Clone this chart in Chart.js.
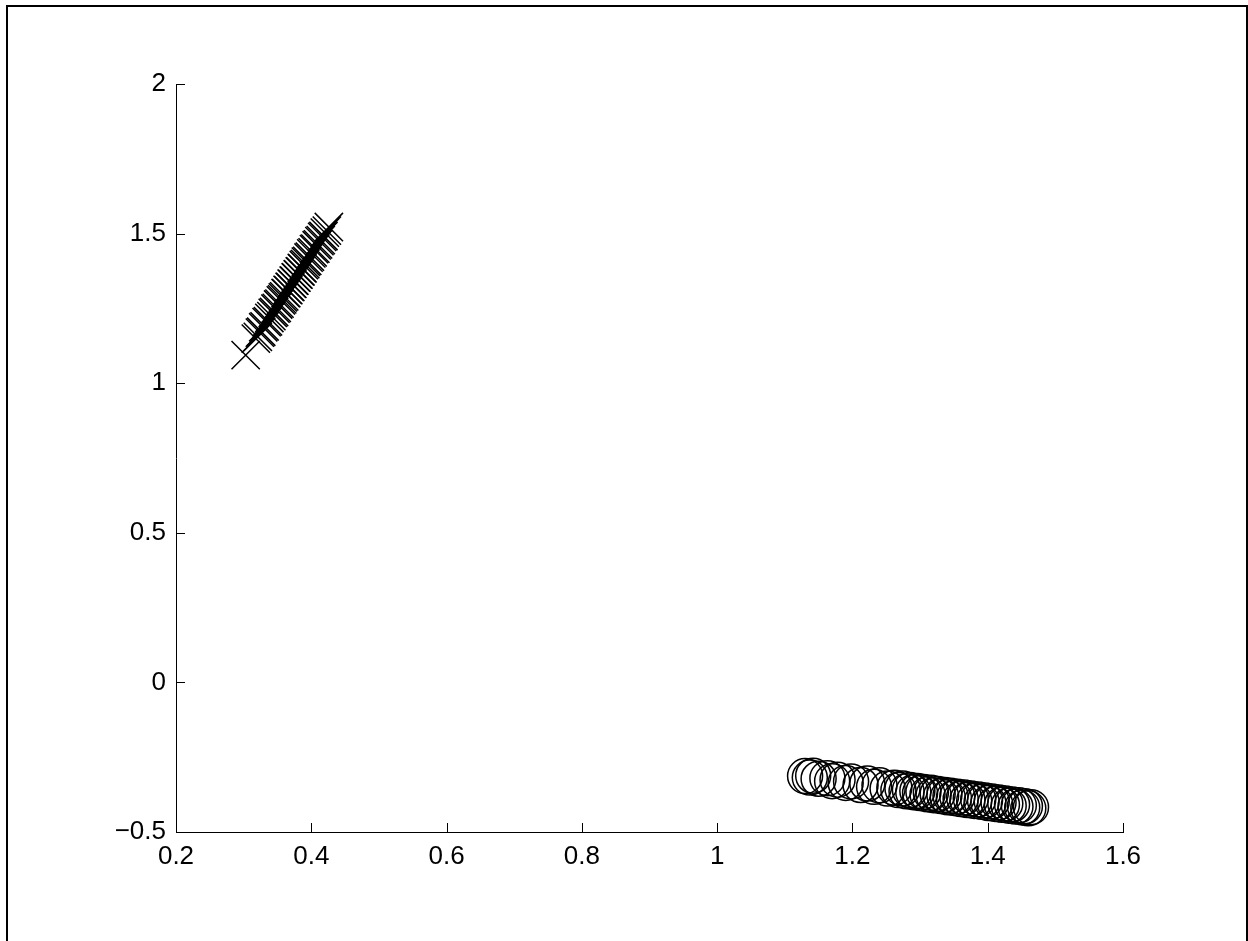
<!DOCTYPE html>
<html>
<head>
<meta charset="utf-8">
<script src="https://cdn.jsdelivr.net/npm/chart.js@4.4.1/dist/chart.umd.min.js"></script>
<style>
    html, body { margin: 0; padding: 0; background: #fff; }
    canvas { display: block; }
</style>
</head>
<body>
<canvas id="plot" width="1248" height="941"></canvas>
<script>
// Series 1: 'x' markers
const crossX = [0.303, 0.318, 0.321, 0.324, 0.326, 0.329, 0.331, 0.334, 0.336, 0.338,
    0.341, 0.343, 0.345, 0.347, 0.349, 0.351, 0.353, 0.355, 0.357, 0.358,
    0.360, 0.362, 0.363, 0.365, 0.366, 0.368, 0.369, 0.371, 0.372, 0.374,
    0.375, 0.377, 0.378, 0.380, 0.381, 0.383, 0.384, 0.386, 0.387, 0.389,
    0.391, 0.392, 0.394, 0.396, 0.398, 0.400, 0.402, 0.404, 0.406, 0.408,
    0.410, 0.412, 0.414, 0.416, 0.418, 0.420, 0.423, 0.426];
const crossY = [1.094, 1.149, 1.155, 1.169, 1.172, 1.187, 1.190, 1.204, 1.207, 1.218,
    1.224, 1.235, 1.238, 1.249, 1.252, 1.263, 1.266, 1.277, 1.280, 1.287,
    1.290, 1.301, 1.301, 1.312, 1.311, 1.322, 1.322, 1.333, 1.332, 1.343,
    1.343, 1.354, 1.353, 1.364, 1.363, 1.374, 1.374, 1.385, 1.384, 1.395,
    1.398, 1.406, 1.409, 1.420, 1.423, 1.434, 1.437, 1.448, 1.450, 1.461,
    1.464, 1.475, 1.478, 1.489, 1.492, 1.503, 1.510, 1.522];

// Series 2: 'o' markers
const circleX = [1.130, 1.137, 1.142, 1.150, 1.163, 1.170, 1.178, 1.190, 1.198, 1.212,
    1.222, 1.232, 1.240, 1.252, 1.262, 1.268, 1.274, 1.280, 1.285, 1.290,
    1.296, 1.300, 1.305, 1.311, 1.316, 1.320, 1.326, 1.331, 1.336, 1.341,
    1.345, 1.350, 1.355, 1.360, 1.365, 1.370, 1.375, 1.380, 1.386, 1.391,
    1.396, 1.401, 1.406, 1.411, 1.416, 1.421, 1.426, 1.431, 1.436, 1.441,
    1.446, 1.451, 1.455, 1.460, 1.464];
const circleY = [-0.313, -0.318, -0.312, -0.322, -0.320, -0.330, -0.325, -0.336, -0.331, -0.343,
    -0.338, -0.349, -0.344, -0.355, -0.352, -0.360, -0.355, -0.364, -0.360, -0.367,
    -0.363, -0.370, -0.366, -0.374, -0.369, -0.377, -0.373, -0.380, -0.376, -0.384,
    -0.379, -0.386, -0.382, -0.390, -0.385, -0.393, -0.388, -0.396, -0.391, -0.399,
    -0.395, -0.403, -0.398, -0.406, -0.401, -0.409, -0.405, -0.412, -0.408, -0.415,
    -0.411, -0.418, -0.414, -0.421, -0.417];

// Axis ranges / ticks
const xRange = [0.2, 1.6];
const xStep = 0.2;
const yRange = [-0.5, 2];
const yStep = 0.5;

const tickFont = { family: "'Liberation Sans', Arial, sans-serif", size: 26 };

function tickLabel(v) {
    const n = Number(v.toFixed(2));
    return n < 0 ? '\u2212' + Math.abs(n) : String(n);
}

// outer figure frame
const framePlugin = {
    id: 'frame',
    beforeDraw(chart) {
        const ctx = chart.ctx;
        ctx.save();
        ctx.fillStyle = '#fff';
        ctx.fillRect(0, 0, chart.width, chart.height);
        ctx.strokeStyle = '#000';
        ctx.lineWidth = 2;
        ctx.strokeRect(7, 6, 1240, 1000);
        ctx.restore();
    }
};

// inward tick marks like the original
const innerTicks = {
    id: 'innerTicks',
    afterDraw(chart) {
        const ctx = chart.ctx;
        const area = chart.chartArea;
        const len = 9;
        ctx.save();
        ctx.strokeStyle = '#000';
        ctx.lineWidth = 1;
        ctx.beginPath();
        chart.scales.x.ticks.forEach(t => {
            const px = Math.round(chart.scales.x.getPixelForValue(t.value)) + 0.5;
            ctx.moveTo(px, area.bottom);
            ctx.lineTo(px, area.bottom - len);
        });
        chart.scales.y.ticks.forEach(t => {
            const py = Math.round(chart.scales.y.getPixelForValue(t.value)) + 0.5;
            ctx.moveTo(area.left, py);
            ctx.lineTo(area.left + len, py);
        });
        ctx.stroke();
        ctx.restore();
    }
};

new Chart(document.getElementById('plot'), {
    type: 'scatter',
    data: {
        datasets: [{
            label: 'x',
            data: crossX.map((x, i) => ({ x: x, y: crossY[i] })),
            pointStyle: 'crossRot',
            pointRadius: 20,
            borderColor: '#000',
            borderWidth: 1.5,
            backgroundColor: 'transparent'
        }, {
            label: 'o',
            data: circleX.map((x, i) => ({ x: x, y: circleY[i] })),
            pointStyle: 'circle',
            pointRadius: 17.5,
            borderColor: '#000',
            borderWidth: 1.5,
            backgroundColor: 'transparent'
        }]
    },
    options: {
        responsive: false,
        animation: false,
        events: [],
        layout: { padding: { top: 84, right: 125, left: 0, bottom: 0 } },
        plugins: {
            legend: { display: false },
            tooltip: { enabled: false }
        },
        scales: {
            x: {
                type: 'linear',
                min: xRange[0],
                max: xRange[1],
                afterFit: s => { s.height = 109; },
                grid: { drawOnChartArea: false, drawTicks: false },
                border: { display: true, color: '#000', width: 1 },
                ticks: {
                    stepSize: xStep,
                    color: '#000',
                    font: tickFont,
                    padding: 9,
                    maxRotation: 0,
                    callback: tickLabel
                }
            },
            y: {
                type: 'linear',
                min: yRange[0],
                max: yRange[1],
                afterFit: s => { s.width = 176; },
                grid: { drawOnChartArea: false, drawTicks: false },
                border: { display: true, color: '#000', width: 1 },
                ticks: {
                    stepSize: yStep,
                    color: '#000',
                    font: tickFont,
                    padding: 10,
                    callback: tickLabel
                }
            }
        }
    },
    plugins: [framePlugin, innerTicks]
});
</script>
</body>
</html>
